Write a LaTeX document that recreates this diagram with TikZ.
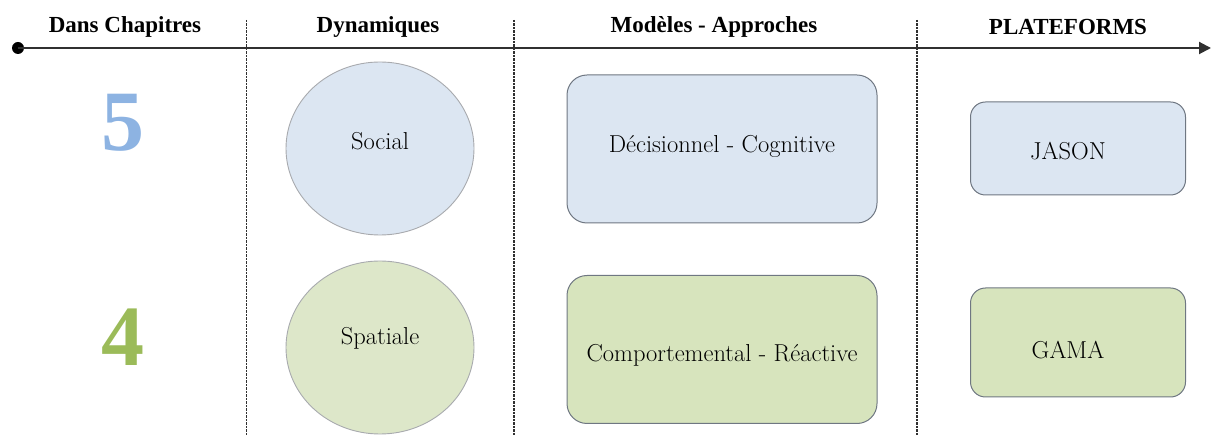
\documentclass[tikz,border=0pt]{standalone}
\usepackage{fontspec}
\newfontfamily\tnr{Liberation Serif}
\usetikzlibrary{arrows.meta,shapes.geometric}
\definecolor{blueFill}{HTML}{DCE6F2}
\definecolor{greenFill}{HTML}{D7E4BD}
\definecolor{greenCirc}{HTML}{DDE7C9}
\definecolor{boxBorder}{HTML}{6F7782}
\definecolor{circBorder}{HTML}{A8AAAE}
\definecolor{digitBlue}{HTML}{8DB3E2}
\definecolor{digitGreen}{HTML}{9BBB59}
\definecolor{lineDark}{HTML}{303030}
\newcommand{\shifttext}[2]{\raisebox{#1}[0.7em][0.2em]{#2}}
\tikzset{
  header/.style={font=\tnr\fontsize{23}{27}\selectfont\bfseries, text=black, inner sep=0pt},
  digit/.style={font=\tnr\fontsize{86}{90}\selectfont\bfseries, inner sep=0pt},
  circ/.style={ellipse, draw=circBorder, line width=0.9pt, minimum width=188pt, minimum height=173pt, inner sep=0pt, font=\rmfamily\fontsize{24.5}{29}\selectfont},
  bigbox/.style={rectangle, rounded corners=20pt, draw=boxBorder, line width=1pt, minimum width=310pt, minimum height=148pt, inner sep=0pt, font=\rmfamily\fontsize{24.5}{29}\selectfont},
  smallbox/.style={rectangle, rounded corners=15pt, draw=boxBorder, line width=1pt, minimum width=215pt, inner sep=0pt, font=\rmfamily\fontsize{24.5}{29}\selectfont},
  sep/.style={draw=lineDark, line width=1.1pt, dash pattern=on 2.5pt off 1pt},
  axis/.style={draw=lineDark, line width=2pt, -{Triangle[length=12pt,width=12pt]}},
}
\begin{document}
\begin{tikzpicture}[x=1pt,y=-1pt]
\useasboundingbox (0,0) rectangle (1211,435);
% separators
\foreach \n/\x in {s1/246.5, s2/514, s3/917}{
  \coordinate (\n top) at (\x,20);
  \coordinate (\n bot) at (\x,435);
  \draw[sep] (\n top) -- (\n bot);
}
% axis
\node[circle, fill=black, minimum size=12pt, inner sep=0pt] (dot) at (18,48) {};
\coordinate (axend) at (1211,48);
\draw[axis] (dot.center) -- (axend);
% headers
\node[header] (h1) at (125,27) {Dans Chapitres};
\node[header] (h2) at (378,27) {Dynamiques};
\node[header] (h3) at (714,27) {Modèles - Approches};
\node[header] (h4) at (1068,27) {PLATEFORMS};
% digits
\node[digit, text=digitBlue] (d5) at (123,123) {5};
\node[digit, text=digitGreen] (d4) at (123,337) {4};
% circles
\node[circ, fill=blueFill] (social) at (380,148.5) {\shifttext{5.5pt}{Social}};
\node[circ, fill=greenCirc] (spatiale) at (380,347.5) {\shifttext{9pt}{Spatiale}};
% model boxes
\node[bigbox, fill=blueFill] (decis) at (722,149) {\shifttext{3pt}{Décisionnel - Cognitive}};
\node[bigbox, fill=greenFill] (comp) at (722,349.5) {\shifttext{-5.5pt}{Comportemental - Réactive}};
% platform boxes
\node[smallbox, fill=blueFill, minimum height=93pt] (jason) at (1078,148.5) {\shifttext{-4.5pt}{JASON}\kern20pt};
\node[smallbox, fill=greenFill, minimum height=109pt] (gama) at (1078,342.5) {\shifttext{-9.5pt}{GAMA}\kern20pt};
\end{tikzpicture}
\end{document}
